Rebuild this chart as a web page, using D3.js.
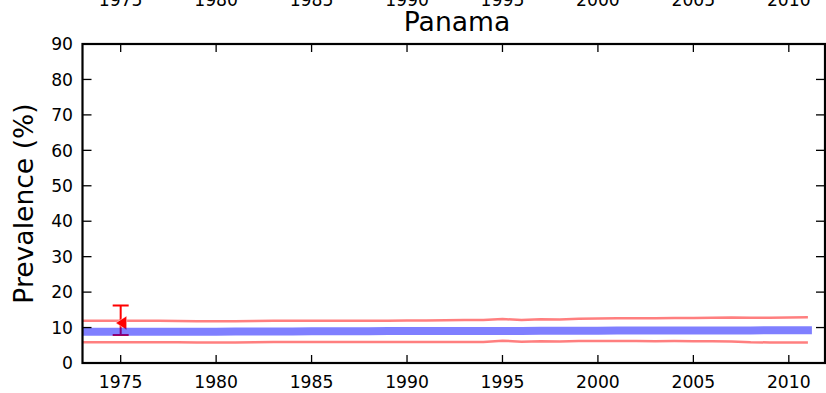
<!DOCTYPE html>
<html><head><meta charset="utf-8">
<script src="https://cdn.jsdelivr.net/npm/d3@7"></script>
<style>body{margin:0;background:#fff}svg{display:block}text{font-family:"DejaVu Sans",sans-serif}</style>
</head><body><svg id="c" width="826" height="393"></svg>
<script>
const years = d3.range(1973, 2012);
const meanVals = [8.8,8.8,8.8,8.85,8.85,8.85,8.85,8.85,8.9,8.9,8.9,8.9,8.95,8.95,8.95,8.95,9.0,9.0,9.0,9.0,9.05,9.05,9.05,9.05,9.1,9.1,9.1,9.1,9.15,9.15,9.15,9.15,9.2,9.2,9.2,9.2,9.25,9.25,9.25];
const upperVals = [11.9,11.9,11.9,11.9,11.9,11.85,11.8,11.8,11.8,11.85,11.9,11.9,11.9,11.9,11.95,11.95,11.95,12.0,12.0,12.05,12.1,12.15,12.4,12.1,12.35,12.3,12.5,12.55,12.6,12.6,12.65,12.7,12.7,12.75,12.85,12.75,12.8,12.85,12.9];
const lowerVals = [5.85,5.85,5.85,5.85,5.85,5.85,5.8,5.8,5.8,5.85,5.9,5.9,5.9,5.9,5.9,5.9,5.9,5.9,5.9,5.9,5.95,5.95,6.3,6.0,6.15,6.05,6.2,6.2,6.2,6.2,6.15,6.2,6.15,6.15,6.1,5.85,5.8,5.8,5.8];
const obsYear = [1975], obsVal = [11.3], obsLow = [7.9], obsHigh = [16.2];
const xTicks = [1975,1980,1985,1990,1995,2000,2005,2010];
const yTicks = [0,10,20,30,40,50,60,70,80,90];
const title = "Panama", yLabel = "Prevalence (%)";

const svg = d3.select("#c");
const L = 82.5, R = 825, T = 44, B = 363;
const x = d3.scaleLinear().domain([1973, 2012]).range([L, 827]);
const y = d3.scaleLinear().domain([0, 90]).range([B, T]);

svg.append("defs").append("clipPath").attr("id","pc").append("rect")
  .attr("x",L).attr("y",T).attr("width",R-L).attr("height",B-T);
const g = svg.append("g").attr("clip-path","url(#pc)");

const line = arr => d3.line().x((d,i)=>x(years[i])).y(d=>y(d))(arr);
[upperVals, lowerVals].forEach(a => g.append("path").attr("d", line(a))
  .attr("fill","none").attr("stroke","#ff0000").attr("stroke-opacity",0.5).attr("stroke-width",2.5));

// error bar
obsYear.forEach((yr,i)=>{
  const cx = x(yr);
  g.append("line").attr("x1",cx).attr("x2",cx).attr("y1",y(obsLow[i])).attr("y2",y(obsHigh[i])).attr("stroke","#ff0000").attr("stroke-width",2);
  [obsLow[i],obsHigh[i]].forEach(v=>g.append("line").attr("x1",cx-8).attr("x2",cx+8).attr("y1",y(v)).attr("y2",y(v)).attr("stroke","#ff0000").attr("stroke-width",2));
  const cy = y(obsVal[i]);
  g.append("path").attr("d",`M${cx-5},${cy} L${cx+6},${cy-7} L${cx+6},${cy+7} Z`).attr("fill","#ff0000").attr("stroke","#fff").attr("stroke-width",0.5);
});

g.append("path").attr("d", line(meanVals)).attr("fill","none").attr("stroke","#0000ff").attr("stroke-opacity",0.5)
  .attr("stroke-width",8).attr("stroke-linecap","square");

// ticks
const ax = svg.append("g");
const fs = 17.2;
xTicks.forEach(t=>{
  const px = x(t);
  ax.append("line").attr("x1",px).attr("x2",px).attr("y1",B).attr("y2",B-8).attr("stroke","#000").attr("stroke-width",1.3);
  ax.append("line").attr("x1",px).attr("x2",px).attr("y1",T).attr("y2",T+8).attr("stroke","#000").attr("stroke-width",1.3);
  ax.append("text").attr("x",px).attr("y",388).attr("text-anchor","middle").attr("font-size",fs).text(t);
  ax.append("text").attr("x",px).attr("y",6).attr("text-anchor","middle").attr("font-size",fs).text(t);
});
yTicks.forEach(t=>{
  const py = y(t);
  ax.append("line").attr("x1",L).attr("x2",L+9).attr("y1",py).attr("y2",py).attr("stroke","#000").attr("stroke-width",1.3);
  ax.append("line").attr("x1",R).attr("x2",R-9).attr("y1",py).attr("y2",py).attr("stroke","#000").attr("stroke-width",1.3);
  ax.append("text").attr("x",73).attr("y",py).attr("dy","0.36em").attr("text-anchor","end").attr("font-size",fs).text(t);
});
ax.append("rect").attr("x",L).attr("y",T).attr("width",R-L).attr("height",B-T).attr("fill","none").attr("stroke","#000").attr("stroke-width",2.2);

svg.append("text").attr("x",457).attr("y",31).attr("text-anchor","middle").attr("font-size",26.6).text(title);
svg.append("text").attr("transform",`translate(33,${(T+B)/2}) rotate(-90)`).attr("text-anchor","middle").attr("font-size",26.6).text(yLabel);
</script></body></html>
